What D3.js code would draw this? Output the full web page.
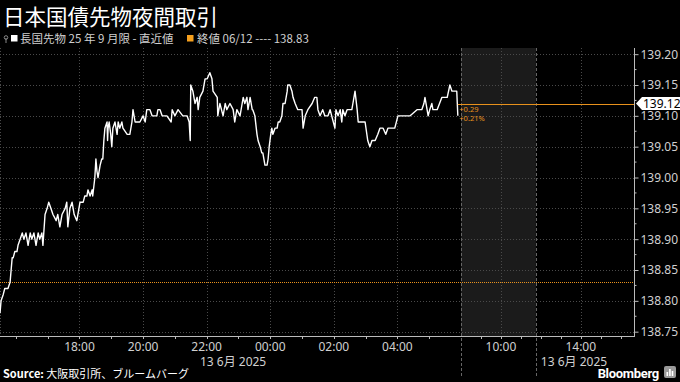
<!doctype html>
<html lang="ja">
<head>
<meta charset="utf-8">
<title>日本国債先物夜間取引</title>
<script src="https://d3js.org/d3.v7.min.js"></script>
<style>
  body { margin: 0; background: #000; }
  svg { display: block; font-family: "Noto Sans", "Noto Sans CJK JP", sans-serif; }
</style>
</head>
<body>
<div id="chart"></div>
<script>
// JGB 10y futures (Sep 2025 contract), night session 12-13 June 2025
const times = [
  "15:30","15:32","15:36","15:39","15:45","15:49","15:51","15:53","15:55","15:58",
  "16:02","16:04","16:08","16:12","16:15","16:19","16:23","16:27","16:30","16:34",
  "16:38","16:42","16:45","16:49","16:51","16:55","16:59","17:02","17:06","17:10",
  "17:16","17:19","17:23","17:27","17:33","17:36","17:38","17:42","17:46","17:50",
  "17:55","17:59","18:01","18:07","18:10","18:14","18:16","18:20","18:24","18:25",
  "18:29","18:31","18:33","18:35","18:39","18:42","18:44","18:46","18:48","18:52",
  "18:53","18:54","18:56","18:59","19:01","19:03","19:07","19:11","19:13","19:16",
  "19:20","19:22","19:30","19:35","19:39","19:41","19:45","19:54","20:00","20:04",
  "20:07","20:13","20:17","20:26","20:28","20:32","20:36","20:45","20:53","20:55",
  "21:00","21:06","21:15","21:23","21:27","21:29","21:30","21:34","21:38","21:42",
  "21:44","21:47","21:53","21:57","22:01","22:06","22:10","22:12","22:20","22:21",
  "22:25","22:31","22:35","22:38","22:44","22:50","22:53","22:57","23:03","23:07",
  "23:09","23:12","23:16","23:18","23:22","23:26","23:27","23:31","23:35","23:37",
  "23:41","23:44","23:46","23:50","23:54","23:56","23:58","00:01","00:03","00:05",
  "00:09","00:13","00:15","00:18","00:22","00:24","00:28","00:32","00:33","00:37",
  "00:41","00:43","00:47","00:52","01:00","01:02","01:06","01:11","01:19","01:24",
  "01:28","01:30","01:34","01:39","01:43","01:49","01:53","01:56","02:02","02:04",
  "02:08","02:12","02:15","02:17","02:21","02:25","02:27","02:34","02:36","02:40",
  "02:44","02:46","02:47","02:53","02:59","03:04","03:08","03:12","03:18","03:23",
  "03:27","03:33","03:38","03:42","03:50","03:55","04:01","04:14","04:24","04:37",
  "04:46","04:50","04:52","04:56","04:58","05:01","05:05","05:07","05:15","05:24",
  "05:30","05:34","05:39","05:43","05:45","05:49","05:52","05:54"
];
const prices = [
  138.78,138.80,138.81,138.82,138.82,138.83,138.85,138.87,138.87,138.88,
  138.88,138.89,138.90,138.91,138.90,138.91,138.89,138.91,138.90,138.91,
  138.89,138.91,138.90,138.91,138.89,138.94,138.95,138.96,138.95,138.94,
  138.93,138.94,138.92,138.94,138.95,138.96,138.92,138.95,138.96,138.94,
  138.93,138.95,138.96,138.96,138.97,138.97,138.98,138.97,138.98,138.97,
  139.00,139.03,139.01,139.00,139.02,139.03,139.03,139.06,139.08,139.09,
  139.06,139.08,139.09,139.07,139.05,139.08,139.09,139.07,139.09,139.08,
  139.09,139.08,139.07,139.07,139.09,139.11,139.09,139.09,139.10,139.09,
  139.11,139.11,139.10,139.10,139.11,139.11,139.10,139.10,139.09,139.11,
  139.10,139.11,139.10,139.10,139.09,139.06,139.15,139.14,139.12,139.13,
  139.11,139.13,139.14,139.16,139.16,139.17,139.16,139.14,139.13,139.10,
  139.12,139.10,139.12,139.11,139.12,139.11,139.09,139.11,139.10,139.12,
  139.13,139.12,139.13,139.11,139.13,139.11,139.11,139.10,139.07,139.06,
  139.05,139.04,139.04,139.02,139.02,139.03,139.05,139.07,139.08,139.07,
  139.08,139.08,139.09,139.09,139.10,139.12,139.12,139.14,139.15,139.15,
  139.14,139.13,139.12,139.11,139.11,139.08,139.10,139.11,139.12,139.13,
  139.13,139.11,139.10,139.11,139.10,139.10,139.11,139.10,139.08,139.11,
  139.10,139.11,139.09,139.11,139.10,139.11,139.11,139.11,139.12,139.14,
  139.11,139.09,139.09,139.09,139.09,139.06,139.05,139.06,139.06,139.07,
  139.08,139.08,139.07,139.08,139.08,139.08,139.10,139.10,139.10,139.11,
  139.11,139.12,139.13,139.11,139.10,139.11,139.12,139.11,139.11,139.13,
  139.13,139.13,139.15,139.14,139.14,139.14,139.14,139.10
];

const prevClose = 138.83;
const lastValue = 139.12;
const changeLabels = ["+0.29", "+0.21%"];

const yTicks = [138.75, 138.80, 138.85, 138.90, 138.95, 139.00, 139.05, 139.10, 139.15, 139.20];
const yDomain = [138.743, 139.21];

const nightSession = ["15:30", "06:00"];
const daySession = ["08:00", "16:40"];
const shadeRange = ["08:00", "11:45"];
const nightTicks = ["18:00", "20:00", "22:00", "00:00", "02:00", "04:00"];
const dayTicks = ["10:00", "14:00"];
const nightMinor = ["16:00","17:00","19:00","21:00","23:00","01:00","03:00","05:00"];
const dayMinor = ["09:00","11:00","12:00","13:00","15:00","16:00"];
const dateLabels = ["13 6月 2025", "13 6月 2025"];

const title = "日本国債先物夜間取引";
const legendSeries = "長国先物 25 年 9 月限 - 直近値";
const legendClose = "終値 06/12 ---- 138.83";

// layout
const W = 680, H = 382;
const plotLeft = 0, plotRight = 634, plotTop = 48, plotBottom = 336;
const breakX = 461;

const orange = "#e8911c";
const gridColor = "#4a4a4a";
const textColor = "#d0d0d0";

// hours on a continuous clock: night session rolls past midnight, day session is next day
function hNight(s) {
  const [h, m] = s.split(":").map(Number);
  return (h < 12 ? h + 24 : h) + m / 60;
}
function hDay(s) {
  const [h, m] = s.split(":").map(Number);
  return 24 + h + m / 60;
}

const x = d3.scaleLinear()
  .domain([hNight(nightSession[0]), hNight(nightSession[1]), hDay(daySession[0]), hDay(daySession[1])])
  .range([plotLeft, breakX, breakX, plotRight]);

const y = d3.scaleLinear().domain(yDomain).range([plotBottom, plotTop]);

const data = times.map((t, i) => ({ t: hNight(t), v: prices[i] }));

const svg = d3.select("#chart").append("svg")
  .attr("width", W)
  .attr("height", H)
  .style("background", "#000");

// title + legend
svg.append("text")
  .attr("x", 3).attr("y", 25)
  .attr("fill", "#fff")
  .attr("font-family", "'Noto Sans CJK JP'")
  .attr("font-size", 21.5)
  .text(title);

const lg = svg.append("g").attr("font-size", 11.5).attr("fill", textColor)
  .attr("font-family", "'Noto Sans CJK JP', 'Noto Sans'");
lg.append("line").attr("x1", 6).attr("x2", 6).attr("y1", 38).attr("y2", 43)
  .attr("stroke", "#888").attr("stroke-width", 1);
lg.append("circle").attr("cx", 6).attr("cy", 37.5).attr("r", 1.8)
  .attr("fill", "none").attr("stroke", "#888");
lg.append("rect").attr("x", 11).attr("y", 35).attr("width", 6.5).attr("height", 6.5).attr("fill", "#fff");
lg.append("text").attr("x", 20).attr("y", 42.5).text(legendSeries);
lg.append("rect").attr("x", 187).attr("y", 35).attr("width", 6.5).attr("height", 6.5).attr("fill", "#f5a01e");
lg.append("text").attr("x", 197).attr("y", 42.5).text(legendClose);

// shaded off-session region
svg.append("rect")
  .attr("x", x(hDay(shadeRange[0])))
  .attr("y", plotTop)
  .attr("width", x(hDay(shadeRange[1])) - x(hDay(shadeRange[0])))
  .attr("height", plotBottom - plotTop)
  .attr("fill", "#1b1b1b");

// grid
const grid = svg.append("g")
  .attr("stroke", gridColor)
  .attr("stroke-width", 1)
  .attr("stroke-dasharray", "1,2");

grid.selectAll("line.h")
  .data(yTicks)
  .join("line")
  .attr("class", "h")
  .attr("x1", plotLeft).attr("x2", plotRight)
  .attr("y1", d => Math.round(y(d)) + 0.5)
  .attr("y2", d => Math.round(y(d)) + 0.5);

const vTicks = nightTicks.map(hNight).concat(dayTicks.map(hDay));
grid.selectAll("line.v")
  .data(vTicks)
  .join("line")
  .attr("class", "v")
  .attr("x1", d => Math.round(x(d)) + 0.5).attr("x2", d => Math.round(x(d)) + 0.5)
  .attr("y1", plotTop).attr("y2", plotBottom);

grid.append("line")
  .attr("x1", 0.5).attr("x2", 0.5)
  .attr("y1", plotTop).attr("y2", plotBottom);

// session break lines (run down through the label area)
svg.append("g")
  .attr("stroke", "#666")
  .attr("stroke-dasharray", "3,2")
  .selectAll("line")
  .data([hDay(shadeRange[0]), hDay(shadeRange[1])])
  .join("line")
  .attr("x1", d => Math.round(x(d)) + 0.5).attr("x2", d => Math.round(x(d)) + 0.5)
  .attr("y1", plotTop).attr("y2", 378);

// previous close
svg.append("line")
  .attr("x1", plotLeft).attr("x2", plotRight)
  .attr("y1", Math.round(y(prevClose)) + 0.5).attr("y2", Math.round(y(prevClose)) + 0.5)
  .attr("stroke", orange)
  .attr("stroke-dasharray", "1,1");

// price line
const line = d3.line()
  .x(d => x(d.t))
  .y(d => y(d.v));

svg.append("path")
  .datum(data)
  .attr("fill", "none")
  .attr("stroke", "#fff")
  .attr("stroke-width", 1.4)
  .attr("stroke-linejoin", "round")
  .attr("d", line);

// last value marker line
const lastX = x(data[data.length - 1].t);
svg.append("line")
  .attr("x1", lastX).attr("x2", plotRight)
  .attr("y1", Math.round(y(lastValue)) + 0.5).attr("y2", Math.round(y(lastValue)) + 0.5)
  .attr("stroke", orange)
  .attr("stroke-width", 1);

svg.append("g")
  .attr("fill", orange)
  .attr("font-size", 7.5)
  .selectAll("text")
  .data(changeLabels)
  .join("text")
  .attr("x", lastX + 1.5)
  .attr("y", (d, i) => y(lastValue) + 8 + i * 9)
  .text(d => d);

// y axis (right)
const yAxis = d3.axisRight(y)
  .tickValues(yTicks)
  .tickSize(4)
  .tickFormat(d3.format(".2f"));

const gy = svg.append("g")
  .attr("transform", `translate(${plotRight + 0.5},0)`)
  .call(yAxis);
gy.select(".domain").attr("stroke", "#bbb").attr("d", `M0,${plotTop}V${plotBottom + 1}`);
gy.selectAll(".tick line").attr("stroke", "#bbb");
gy.selectAll(".tick text")
  .attr("fill", textColor)
  .attr("font-size", 12)
  .attr("x", 6)
  .attr("font-family", "'Noto Sans'");

const yMinor = d3.range(yTicks.length - 1).map(i => (yTicks[i] + yTicks[i + 1]) / 2);
gy.append("g").selectAll("line")
  .data(yMinor)
  .join("line")
  .attr("x1", 0).attr("x2", 2)
  .attr("y1", d => y(d)).attr("y2", d => y(d))
  .attr("stroke", "#bbb");

// last value tag
const ly = y(lastValue);
svg.append("path")
  .attr("d", `M${plotRight + 2},${ly} L${plotRight + 8},${ly - 6.5} H${W} V${ly + 6.5} H${plotRight + 8} Z`)
  .attr("fill", "#fff");
svg.append("text")
  .attr("x", plotRight + 9)
  .attr("y", ly + 4.5)
  .attr("fill", "#000")
  .attr("font-size", 12)
  .attr("font-family", "'Noto Sans'")
  .text(d3.format(".2f")(lastValue));

// x axis
const gx = svg.append("g");
gx.append("line")
  .attr("x1", plotLeft).attr("x2", plotRight)
  .attr("y1", plotBottom + 0.5).attr("y2", plotBottom + 0.5)
  .attr("stroke", "#bbb");

const allTicks = nightTicks.map(hNight).concat(nightMinor.map(hNight), dayTicks.map(hDay), dayMinor.map(hDay));
gx.selectAll("line.tk")
  .data(allTicks)
  .join("line")
  .attr("class", "tk")
  .attr("x1", d => Math.round(x(d)) + 0.5).attr("x2", d => Math.round(x(d)) + 0.5)
  .attr("y1", plotBottom).attr("y2", plotBottom + 3)
  .attr("stroke", "#bbb");

const labelTicks = nightTicks.map(s => ({ s, t: hNight(s) }))
  .concat(dayTicks.map(s => ({ s, t: hDay(s) })));
gx.selectAll("text.lb")
  .data(labelTicks)
  .join("text")
  .attr("class", "lb")
  .attr("x", d => x(d.t))
  .attr("y", plotBottom + 15)
  .attr("text-anchor", "middle")
  .attr("fill", textColor)
  .attr("font-size", 12)
  .text(d => d.s);

gx.append("text")
  .attr("x", x(hNight("00:00")) - 4)
  .attr("y", plotBottom + 30)
  .attr("text-anchor", "end")
  .attr("fill", textColor)
  .attr("font-size", 12)
  .attr("font-family", "'Noto Sans', 'Noto Sans CJK JP'")
  .text(dateLabels[0]);

gx.append("text")
  .attr("x", x(hDay(shadeRange[1])) + 5)
  .attr("y", plotBottom + 30)
  .attr("fill", textColor)
  .attr("font-size", 12)
  .attr("font-family", "'Noto Sans', 'Noto Sans CJK JP'")
  .text(dateLabels[1]);

// footer
const src = svg.append("text")
  .attr("x", 3).attr("y", 378)
  .attr("fill", "#fff")
  .attr("font-size", 11)
  .attr("font-family", "'Noto Sans CJK JP'");
src.append("tspan").attr("font-weight", "bold").text("Source: ");
src.append("tspan").text("大阪取引所、ブルームバーグ");

svg.append("text")
  .attr("x", 659).attr("y", 378)
  .attr("text-anchor", "end")
  .attr("fill", "#fff")
  .attr("font-size", 13)
  .attr("font-weight", "bold")
  .attr("font-family", "'Roboto', 'Noto Sans'")
  .attr("letter-spacing", -0.3)
  .text("Bloomberg");

const logo = svg.append("g").attr("transform", "translate(664,366)");
logo.append("rect").attr("width", 12).attr("height", 12).attr("rx", 2).attr("fill", "#9a9a9a");
logo.selectAll("rect.bar")
  .data([4, 7, 5])
  .join("rect")
  .attr("class", "bar")
  .attr("x", (d, i) => 2.5 + i * 2.6)
  .attr("y", d => 10 - d)
  .attr("width", 1.6)
  .attr("height", d => d)
  .attr("fill", "#fff");
</script>
</body>
</html>
